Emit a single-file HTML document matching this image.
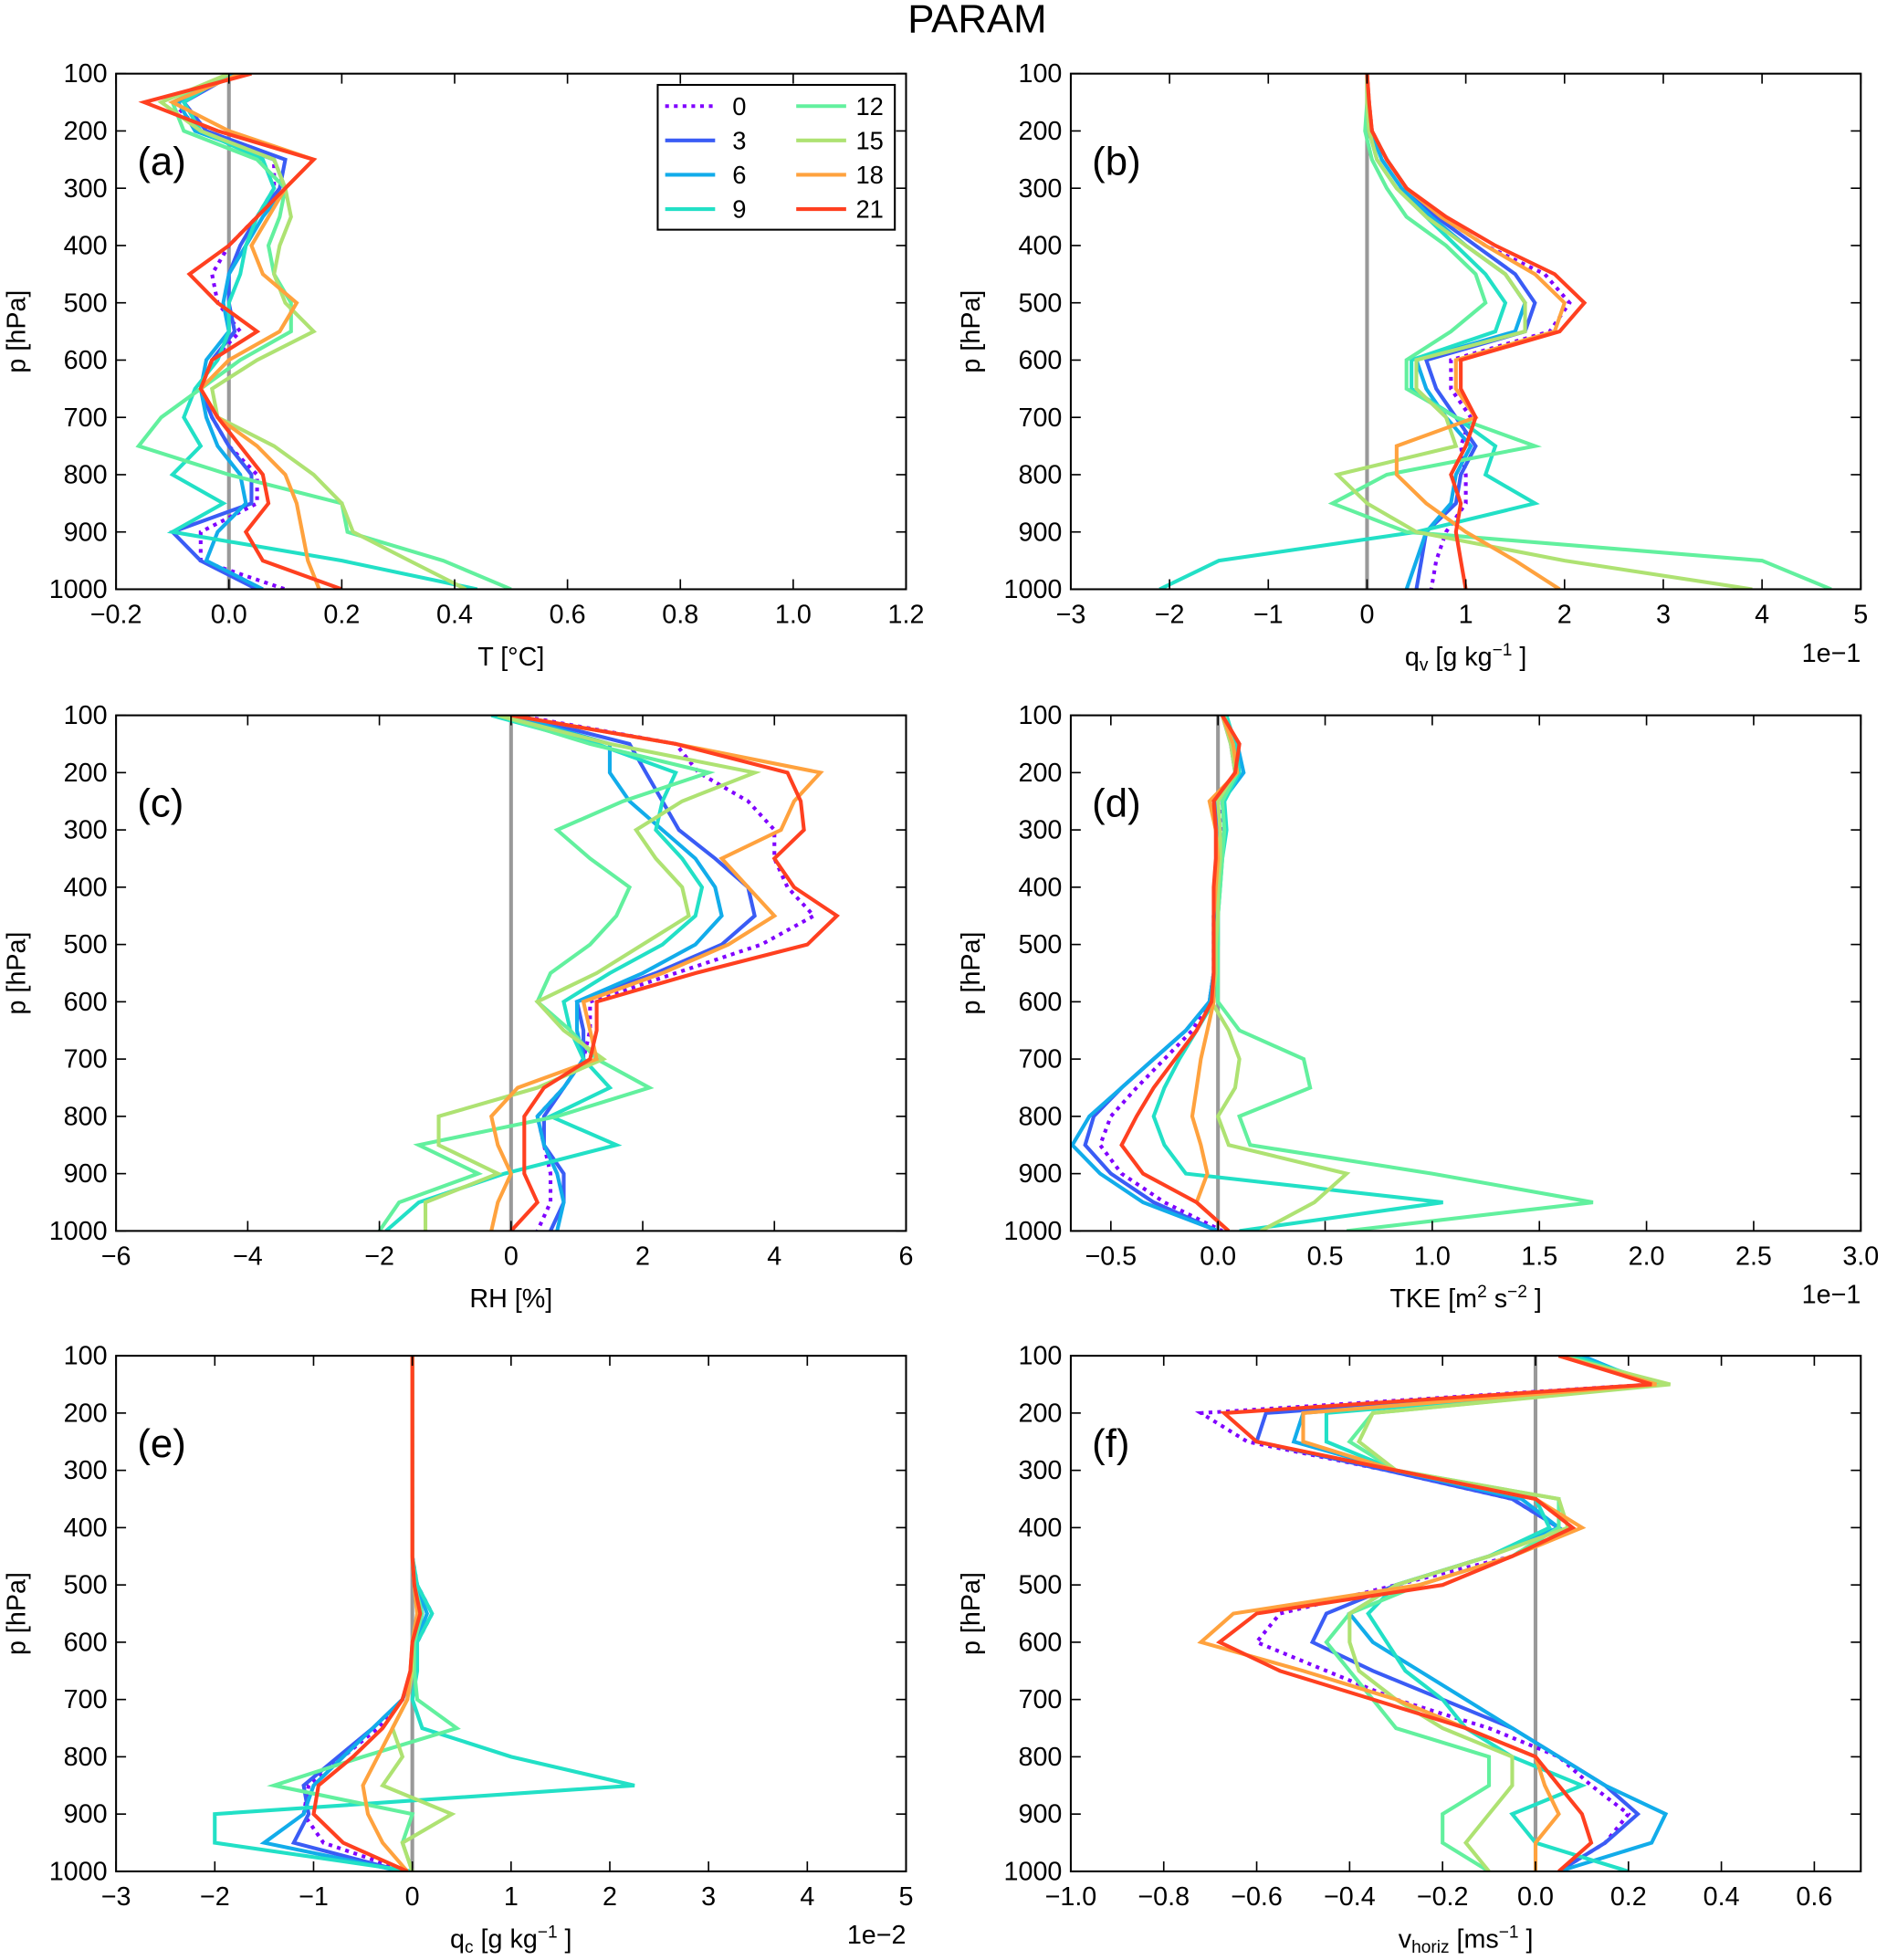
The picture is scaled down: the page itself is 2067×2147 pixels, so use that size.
<!DOCTYPE html>
<html><head><meta charset="utf-8"><style>
html,body{margin:0;padding:0;background:#fff;}
svg{display:block;font-family:"Liberation Sans",sans-serif;}
</style></head><body>
<svg id="fig" width="2067" height="2147" viewBox="0 0 1512 1570" preserveAspectRatio="none" xmlns="http://www.w3.org/2000/svg">
<rect width="1512" height="1570" fill="#fff"/>
<text x="783" y="26" font-size="32" text-anchor="middle">PARAM</text>
</svg>
<script>
const levels=[100,150,200,250,300,350,400,450,500,550,600,650,700,750,800,850,900,950,1000];
const seriesNames=["0","3","6","9","12","15","18","21"];
const colors=["#8000ff","#3a5cf5","#12acea","#22e0c6","#62f09e","#aee272","#ffa23e","#ff4020"];
// panel a: T
const aT=[
[0.01,-0.1,-0.05,0.08,0.08,0.05,0.0,-0.03,-0.02,0.02,-0.03,-0.05,-0.03,0.0,0.05,0.05,-0.05,-0.05,0.1],
[0.01,-0.08,-0.04,0.1,0.09,0.05,0.02,0.0,0.0,0.01,-0.03,-0.05,-0.03,0.0,0.04,0.04,-0.1,-0.05,0.05],
[0.01,-0.09,-0.06,0.08,0.1,0.06,0.03,0.0,-0.01,0.0,-0.04,-0.05,-0.04,-0.02,0.02,0.03,-0.02,-0.04,0.06],
[0.0,-0.08,-0.05,0.06,0.08,0.05,0.03,0.02,0.0,0.0,-0.02,-0.06,-0.08,-0.05,-0.1,-0.01,-0.1,0.2,0.44],
[0.0,-0.1,-0.08,0.05,0.1,0.09,0.07,0.08,0.11,0.11,0.02,-0.05,-0.12,-0.16,0.0,0.2,0.21,0.38,0.5],
[0.0,-0.12,-0.05,0.08,0.1,0.11,0.09,0.08,0.1,0.15,0.05,-0.03,-0.02,0.08,0.15,0.2,0.22,0.32,0.42],
[0.02,-0.1,0.0,0.15,0.1,0.07,0.04,0.06,0.12,0.09,0.0,-0.05,-0.02,0.05,0.1,0.12,0.13,0.14,0.16],
[0.04,-0.15,-0.02,0.15,0.1,0.05,0.0,-0.07,-0.02,0.05,-0.03,-0.05,-0.02,0.02,0.06,0.07,0.03,0.06,0.2]];
// panel b: qv (x1e-1)
const bQv=[
[0,0.02,0.05,0.2,0.4,0.75,1.2,1.8,2.05,1.85,0.85,0.85,1.05,0.95,1.0,1.0,0.8,0.7,0.65],
[0,0.01,0.05,0.2,0.4,0.7,1.1,1.5,1.7,1.6,0.6,0.7,0.9,1.1,0.95,0.9,0.6,0.55,0.5],
[0,0.01,0.04,0.15,0.35,0.65,1.0,1.4,1.6,1.5,0.5,0.6,0.8,1.05,0.9,0.85,0.6,0.5,0.4],
[0,0.01,0.02,0.1,0.3,0.6,0.9,1.2,1.4,1.3,0.45,0.45,0.9,1.3,1.2,1.7,0.5,-1.5,-2.1],
[0,0,-0.02,0.05,0.2,0.4,0.8,1.1,1.2,0.85,0.4,0.4,0.9,1.7,0.2,-0.35,0.4,4.0,4.7],
[0,0,0.02,0.1,0.3,0.6,1.0,1.4,1.6,1.6,0.5,0.5,0.8,0.9,-0.3,0.0,0.5,2.0,3.9],
[0,0.02,0.05,0.2,0.4,0.75,1.2,1.7,2.0,1.9,0.9,0.9,1.1,0.3,0.3,0.6,1.0,1.5,1.95],
[0,0.02,0.05,0.2,0.4,0.8,1.3,1.9,2.2,1.95,0.95,0.95,1.1,1.0,0.85,0.95,0.9,0.95,1.0]];
// panel c: RH
const cRH=[
[0.1,2.5,2.85,3.6,4.0,4.0,4.2,4.6,3.8,2.5,1.2,1.2,1.1,0.8,0.4,0.5,0.6,0.6,0.4],
[0.1,1.8,2.05,2.3,2.55,3.1,3.6,3.7,3.2,2.2,1.0,1.1,1.1,0.8,0.5,0.5,0.8,0.8,0.6],
[0.0,1.5,1.5,1.8,2.3,2.8,3.1,3.2,2.8,2.0,1.0,1.0,1.1,0.8,0.4,0.5,0.7,0.8,0.7],
[-0.3,1.3,2.5,2.3,2.2,2.6,2.9,2.8,2.3,1.5,0.8,0.9,1.1,1.5,0.6,1.6,-0.1,-1.4,-1.9],
[-0.2,1.2,3.0,1.7,0.7,1.2,1.8,1.6,1.2,0.6,0.4,0.9,1.3,2.1,0.7,-1.4,-0.5,-1.7,-2.0],
[-0.2,1.5,3.7,2.6,1.9,2.2,2.6,2.7,2.0,1.3,0.4,0.8,1.4,0.4,-1.1,-1.1,-0.2,-1.3,-1.3],
[0.0,2.5,4.7,4.3,4.1,3.2,3.6,4.0,3.3,2.3,1.1,1.2,1.3,0.1,-0.3,-0.2,0.0,-0.2,-0.3],
[0.0,2.5,4.2,4.4,4.45,4.0,4.3,4.95,4.5,2.8,1.3,1.3,1.2,0.5,0.2,0.2,0.2,0.4,0.0]];
// panel d: TKE (x1e-1)
const dTKE=[
[0.02,0.08,0.1,0.0,0.02,0.0,-0.01,-0.02,-0.02,-0.02,-0.04,-0.12,-0.25,-0.38,-0.5,-0.55,-0.45,-0.25,0.02],
[0.02,0.06,0.08,-0.01,0.01,0.0,-0.01,-0.02,-0.02,-0.02,-0.04,-0.15,-0.3,-0.45,-0.58,-0.62,-0.5,-0.3,0.0],
[0.03,0.09,0.12,0.02,0.03,0.01,0.0,-0.01,-0.01,-0.02,-0.04,-0.15,-0.3,-0.45,-0.6,-0.68,-0.55,-0.35,0.0],
[0.04,0.08,0.1,0.03,0.04,0.02,0.01,0.0,0.0,-0.01,-0.02,-0.1,-0.18,-0.25,-0.3,-0.25,-0.15,1.05,0.1],
[0.03,0.07,0.09,0.02,0.03,0.02,0.01,0.0,0.0,0.0,0.0,0.1,0.4,0.43,0.1,0.15,1.0,1.75,0.6],
[0.02,0.06,0.08,0.0,0.01,0.01,0.0,0.0,-0.01,-0.01,-0.03,0.05,0.1,0.08,0.0,0.05,0.6,0.45,0.2],
[0.02,0.07,0.09,-0.04,-0.01,0.0,-0.01,-0.02,-0.02,-0.02,-0.02,-0.05,-0.08,-0.1,-0.12,-0.08,-0.05,-0.1,0.05],
[0.02,0.1,0.08,-0.02,-0.01,-0.01,-0.02,-0.02,-0.02,-0.02,-0.03,-0.1,-0.2,-0.3,-0.38,-0.45,-0.35,-0.1,0.05]];
// panel e: qc (x1e-2)
const eQc=[
[0,0,0,0,0,0,0,0,0.05,0.2,0.05,0,-0.1,-0.35,-0.7,-1.05,-1.1,-0.9,-0.05],
[0,0,0,0,0,0,0,0,0.03,0.1,0.03,0,-0.1,-0.4,-0.75,-1.1,-1.05,-1.2,-0.1],
[0,0,0,0,0,0,0,0,0.04,0.15,0.04,0,-0.1,-0.4,-0.7,-1.0,-1.1,-1.5,-0.1],
[0,0,0,0,0,0,0,0,0.05,0.2,0.05,0.05,0.0,0.1,1.0,2.25,-2.0,-2.0,0.0],
[0,0,0,0,0,0,0,0,0.02,0.1,0.02,0.02,0.05,0.45,-0.5,-1.4,0.0,-0.1,0.0],
[0,0,0,0,0,0,0,0,0.02,0.05,0.0,0.0,-0.05,-0.2,-0.1,-0.3,0.4,-0.1,0.0],
[0,0,0,0,0,0,0,0,0.02,0.05,0.0,-0.02,-0.05,-0.2,-0.35,-0.5,-0.45,-0.3,-0.05],
[0,0,0,0,0,0,0,0,0.02,0.08,0.0,-0.02,-0.1,-0.3,-0.6,-0.95,-1.0,-0.7,-0.05]];
// panel f: v_horiz
const fV=[
[0.06,0.25,-0.72,-0.62,-0.32,-0.05,0.05,-0.05,-0.3,-0.55,-0.6,-0.45,-0.3,-0.1,0.05,0.12,0.2,0.15,0.05],
[0.07,0.26,-0.58,-0.6,-0.32,-0.05,0.05,-0.1,-0.3,-0.45,-0.48,-0.35,-0.2,-0.05,0.05,0.15,0.22,0.15,0.05],
[0.1,0.25,-0.5,-0.52,-0.3,-0.03,0.05,-0.1,-0.3,-0.4,-0.35,-0.25,-0.15,-0.05,0.05,0.15,0.28,0.25,0.05],
[0.08,0.27,-0.45,-0.45,-0.3,0.0,0.03,-0.1,-0.3,-0.36,-0.32,-0.28,-0.2,-0.15,-0.05,0.1,-0.05,0.0,0.2],
[0.06,0.28,-0.35,-0.4,-0.3,0.05,0.05,-0.05,-0.25,-0.4,-0.45,-0.4,-0.35,-0.3,-0.1,-0.1,-0.2,-0.2,-0.1],
[0.05,0.29,-0.35,-0.38,-0.3,0.05,0.07,-0.1,-0.3,-0.4,-0.4,-0.38,-0.3,-0.2,-0.05,-0.05,-0.1,-0.15,-0.1],
[0.05,0.26,-0.5,-0.5,-0.3,0.0,0.1,-0.05,-0.25,-0.65,-0.72,-0.5,-0.3,-0.15,0.0,0.02,0.05,0.0,0.0],
[0.05,0.25,-0.67,-0.6,-0.3,0.0,0.08,-0.05,-0.2,-0.6,-0.68,-0.55,-0.35,-0.15,0.0,0.05,0.1,0.12,0.05]];
const yTicks=[100,200,300,400,500,600,700,800,900,1000];
const aTicks=["−0.2","0.0","0.2","0.4","0.6","0.8","1.0","1.2"];
const bTicks=["−3","−2","−1","0","1","2","3","4","5"];
const cTicks=["−6","−4","−2","0","2","4","6"];
const dTicks=["−0.5","0.0","0.5","1.0","1.5","2.0","2.5","3.0"];
const eTicks=["−3","−2","−1","0","1","2","3","4","5"];
const fTicks=["−1.0","−0.8","−0.6","−0.4","−0.2","0.0","0.2","0.4","0.6"];
const aTickVals=[-0.2,0,0.2,0.4,0.6,0.8,1.0,1.2];
const bTickVals=[-3,-2,-1,0,1,2,3,4,5];
const cTickVals=[-6,-4,-2,0,2,4,6];
const dTickVals=[-0.5,0,0.5,1,1.5,2,2.5,3];
const fTickVals=[-1,-0.8,-0.6,-0.4,-0.2,0,0.2,0.4,0.6];

const NS="http://www.w3.org/2000/svg";
const svg=document.getElementById('fig');
function mk(tag,attrs,parent){const e=document.createElementNS(NS,tag);for(const k in attrs)e.setAttribute(k,attrs[k]);(parent||svg).appendChild(e);return e;}

const panels=[
 {id:"a",data:aT,x0:93,y0:59,xmin:-0.2,xmax:1.2,ticks:aTicks,tv:aTickVals,label:"T [°C]",exp:""},
 {id:"b",data:bQv,x0:858,y0:59,xmin:-3,xmax:5,ticks:bTicks,tv:bTickVals,label:"q<sub>v</sub>",exp:"1e−1"},
 {id:"c",data:cRH,x0:93,y0:573,xmin:-6,xmax:6,ticks:cTicks,tv:cTickVals,label:"RH [%]",exp:""},
 {id:"d",data:dTKE,x0:858,y0:573,xmin:-0.687,xmax:3.0,ticks:dTicks,tv:dTickVals,label:"TKE",exp:"1e−1"},
 {id:"e",data:eQc,x0:93,y0:1086,xmin:-3,xmax:5,ticks:eTicks,tv:bTickVals,label:"q<sub>c</sub>",exp:"1e−2"},
 {id:"f",data:fV,x0:858,y0:1086,xmin:-1.0,xmax:0.7,ticks:fTicks,tv:fTickVals,label:"v",exp:""}];
const W=633,H=413;

panels.forEach(p=>{
 const g=mk('g',{});
 
 
 const xs=v=>p.x0+(v-p.xmin)/(p.xmax-p.xmin)*W;
 const ys=v=>p.y0+(v-100)/900*H;
 const clip=mk('clipPath',{id:'clip'+p.id},g);
 mk('rect',{x:p.x0,y:p.y0,width:W,height:H},clip);
 // zero line
 const z=mk('line',{x1:xs(0),x2:xs(0),y1:p.y0,y2:p.y0+H,stroke:'#999',"stroke-width":3},g);
 
 
 // series
 const sg=mk('g',{"clip-path":'url(#clip'+p.id+')'},g);
 p.data.forEach((vals,i)=>{
  const pts=vals.map((v,j)=>xs(v).toFixed(1)+','+ys(levels[j]).toFixed(1)).join(' ');
  const pl=mk('polyline',{points:pts,fill:'none',stroke:colors[i],"stroke-width":3,"stroke-linejoin":"miter"},sg);
  if(i===0)pl.setAttribute('stroke-dasharray','3 4');
  
  
 });
 // frame
 const fr=mk('rect',{x:p.x0,y:p.y0,width:W,height:H,fill:'none',stroke:'#000',"stroke-width":1.5},g);
 
 
 // y ticks
 yTicks.forEach(t=>{
  const y=ys(t);
  mk('line',{x1:p.x0,x2:p.x0+8,y1:y,y2:y,stroke:'#000',"stroke-width":1.2},g);
  mk('line',{x1:p.x0+W-8,x2:p.x0+W,y1:y,y2:y,stroke:'#000',"stroke-width":1.2},g);
  const tx=mk('text',{x:p.x0-7,y:y+7,"font-size":21,"text-anchor":"end"},g);
  tx.textContent=t;
  
  
 });
 // x ticks
 p.tv.forEach((t,k)=>{
  const x=xs(t);
  mk('line',{x1:x,x2:x,y1:p.y0+H,y2:p.y0+H-8,stroke:'#000',"stroke-width":1.2},g);
  mk('line',{x1:x,x2:x,y1:p.y0,y2:p.y0+8,stroke:'#000',"stroke-width":1.2},g);
  const tx=mk('text',{x:x,y:p.y0+H+27,"font-size":21,"text-anchor":"middle"},g);
  tx.textContent=p.ticks[k];
  
  
 });
 // y label
 const yl=mk('text',{x:0,y:0,"font-size":21,"text-anchor":"middle",transform:`translate(${p.x0-73},${p.y0+H/2}) rotate(-90)`},g);
 yl.textContent='p [hPa]';
 
 
 // x label
 const xl=mk('text',{x:p.x0+W/2,y:p.y0+H+61,"font-size":21,"text-anchor":"middle"},g);
 
 
 if(p.id==='a'){xl.textContent='T [°C]';}
 else if(p.id==='c'){xl.textContent='RH [%]';}
 else if(p.id==='b'){xl.innerHTML='q<tspan font-size="14" dy="4">v</tspan><tspan dy="-4"> [g kg</tspan><tspan font-size="14" dy="-8">−1</tspan><tspan dy="8"> ]</tspan>';}
 else if(p.id==='e'){xl.innerHTML='q<tspan font-size="14" dy="4">c</tspan><tspan dy="-4"> [g kg</tspan><tspan font-size="14" dy="-8">−1</tspan><tspan dy="8"> ]</tspan>';}
 else if(p.id==='d'){xl.innerHTML='TKE [m<tspan font-size="14" dy="-8">2</tspan><tspan dy="8"> s</tspan><tspan font-size="14" dy="-8">−2</tspan><tspan dy="8"> ]</tspan>';}
 else {xl.innerHTML='v<tspan font-size="14" dy="4">horiz</tspan><tspan dy="-4"> [ms</tspan><tspan font-size="14" dy="-8">−1</tspan><tspan dy="8"> ]</tspan>';}
 if(p.exp){
  const ex=mk('text',{x:p.x0+W,y:p.y0+H+58,"font-size":21,"text-anchor":"end"},g);
  ex.textContent=p.exp;
  
  
 }
 const pl=mk('text',{x:p.x0+17,y:p.y0+81,"font-size":32},g);
 pl.textContent='('+p.id+')';
 
 
});

// legend
const lg=mk('g',{});


mk('rect',{x:527,y:68,width:190,height:116,fill:'#fff',stroke:'#000',"stroke-width":1.5},lg);
seriesNames.forEach((n,i)=>{
 const col=Math.floor(i/4),row=i%4;
 const y=85+row*27.5;
 const lx=col?638:533;
 const e=mk('g',{},lg);
 
 
 const ln=mk('line',{x1:lx,x2:lx+40,y1:y,y2:y,stroke:colors[i],"stroke-width":3},e);
 if(i===0)ln.setAttribute('stroke-dasharray','3 4');
 const t=mk('text',{x:col?708:598,y:y+7,"font-size":20,"text-anchor":"end"},e);
 t.textContent=n;
});
</script>
</body></html>
